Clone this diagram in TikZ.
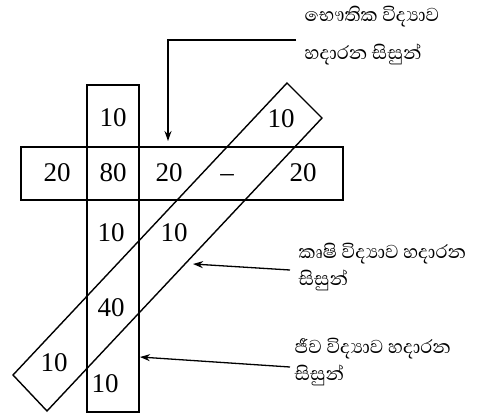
\documentclass[tikz,border=0pt]{standalone}
\usepackage{fontspec}
\setmainfont{Liberation Serif}
\newfontfamily\sinhala[Script=Sinhala]{Abhaya Libre}
\usetikzlibrary{arrows.meta}
\tikzset{
  num/.style={font=\fontsize{27}{30}\selectfont, inner sep=0pt},
  lbl/.style={font=\sinhala\fontsize{24}{27}\selectfont, align=left, anchor=west, inner sep=0pt},
  pointer/.style={line width=1.3pt, -{Stealth[length=10pt,width=7pt]}}
}
\begin{document}
\begin{tikzpicture}[x=1pt,y=-1pt,line width=1.4pt]
    \useasboundingbox (0,0) rectangle (493,418);
    % Vertical box
    \draw (87,85) rectangle (139,412);
    % Horizontal box
    \draw (21,147) rectangle (343,200);
    % Slanted box
    \draw (13,375) -- (287,83) -- (322,118) -- (47,411) -- cycle;
    % Numbers
    \node[num] (vtop) at (113,118) {10};
    \node[num] (hleft) at (57,173) {20};
    \node[num] (mid) at (113,173) {80};
    \node[num] (hmid) at (169,173) {20};
    \node[num] (hdash) at (227,178) {--};
    \node[num] (hright) at (303,173) {20};
    \node[num] (stop) at (281,119) {10};
    \node[num] (vd) at (111,233) {10};
    \node[num] (sd) at (174,233) {10};
    \node[num] (vsd) at (111,308) {40};
    \node[num] (slow) at (54,363) {10};
    \node[num] (vlow) at (105,384) {10};
    % Labels
    \node[lbl, font=\sinhala\fontsize{24}{38}\selectfont] (phys) at (304,36) {භෞතික විද්‍යාව\\හදාරන සිසුන්};
    \node[lbl] (agri) at (298,267) {කෘෂි විද්‍යාව හදාරන\\සිසුන්};
    \node[lbl] (bio) at (294,362) {ජීව විද්‍යාව හදාරන\\සිසුන්};
    % Arrow ends
    \coordinate (physTip) at (168,141);
    \coordinate (agriTip) at (193,264);
    \coordinate (bioTip) at (140,357);
    \draw[pointer] ([xshift=-8pt,yshift=-4pt]phys.west) -| (physTip);
    \draw[pointer] ([xshift=-8pt,yshift=-3pt]agri.west) -- (agriTip);
    \draw[pointer] ([xshift=-4pt,yshift=-5pt]bio.west) -- (bioTip);
\end{tikzpicture}
\end{document}
